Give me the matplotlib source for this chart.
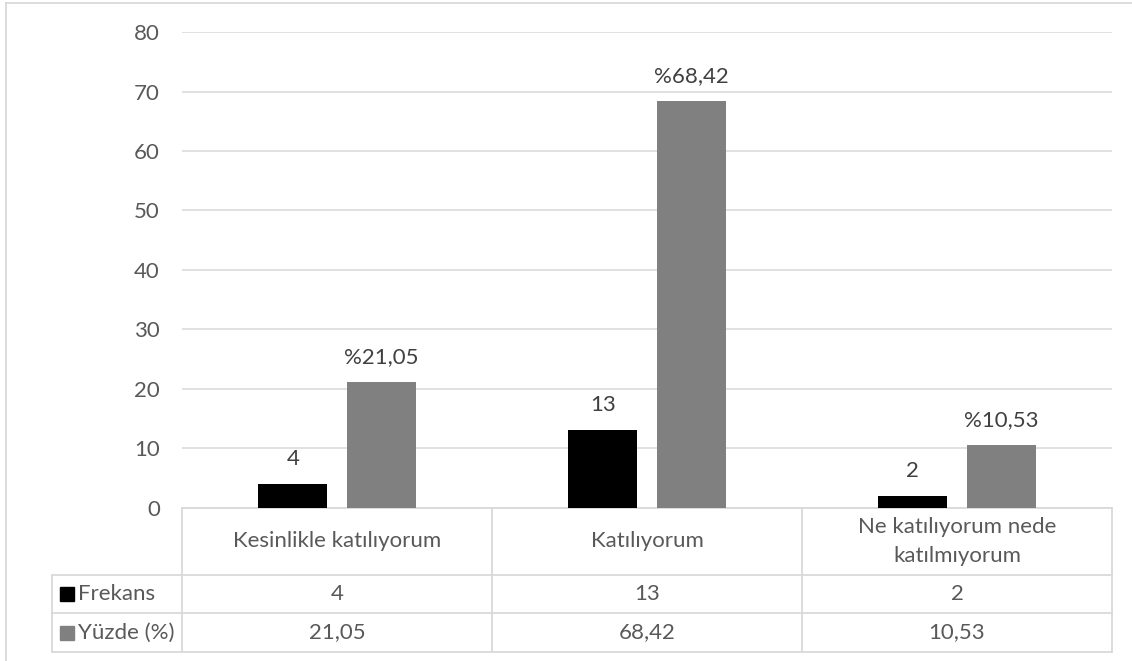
import matplotlib
matplotlib.use("Agg")
import matplotlib.pyplot as plt
from matplotlib.lines import Line2D
import numpy as np

plt.rcParams['font.family'] = ['Lato', 'DejaVu Sans']

categories = ["Kesinlikle katılıyorum", "Katılıyorum", "Ne katılıyorum nede\nkatılmıyorum"]
series_names = ["Frekans", "Yüzde (%)"]
frekans = [4, 13, 2]
yuzde = [21.05, 68.42, 10.53]
frekans_labels = ["4", "13", "2"]
yuzde_labels = ["%21,05", "%68,42", "%10,53"]
yuzde_table = ["21,05", "68,42", "10,53"]
yticks = [0, 10, 20, 30, 40, 50, 60, 70, 80]

W, H = 1132, 661
fig = plt.figure(figsize=(W / 100, H / 100), dpi=100)
fig.patch.set_facecolor("white")

grid_c = "#d9d9d9"
text_c = "#595959"
lab_c = "#404040"
fs = 16

# plot area in pixels
x0, x1 = 182, 1112
y_top, y_bot = 32.3, 507.5
ax = fig.add_axes([x0 / W, 1 - y_bot / H, (x1 - x0) / W, (y_bot - y_top) / H])

x = np.arange(len(categories))
bw = 0.223
off = 0.1425
b1 = ax.bar(x - off, frekans, bw, color="#000000", zorder=3)
b2 = ax.bar(x + off, yuzde, bw, color="#808080", zorder=3)

for rect, lab in zip(b1, frekans_labels):
    ax.annotate(lab, (rect.get_x() + rect.get_width() / 2, rect.get_height()),
                xytext=(0, 18), textcoords="offset points", ha="center", va="center",
                fontsize=fs, color=lab_c)
for rect, lab in zip(b2, yuzde_labels):
    ax.annotate(lab, (rect.get_x() + rect.get_width() / 2, rect.get_height()),
                xytext=(0, 18), textcoords="offset points", ha="center", va="center",
                fontsize=fs, color=lab_c)

ax.set_xlim(-0.5, len(categories) - 0.5)
ax.set_ylim(0, 80)
ax.set_yticks(yticks)
ax.set_yticklabels([str(t) for t in yticks], fontsize=fs, color=text_c)
ax.tick_params(axis="y", length=0, pad=16)
ax.set_xticks([])
ax.yaxis.grid(True, color=grid_c, linewidth=1.1, zorder=0)
for s in ["top", "right", "left"]:
    ax.spines[s].set_visible(False)
ax.spines["bottom"].set_color(grid_c)
ax.spines["bottom"].set_linewidth(1.3)

# data table axes (x in category units, y in pixels)
t_left, t_bot = 52, 652
r1, r2 = 575, 613
units_per_px = 1.0 / 310
tx_left = -0.5 - (x0 - t_left) * units_per_px
tax = fig.add_axes([t_left / W, 1 - t_bot / H, (x1 - t_left) / W, (t_bot - y_bot) / H])
tax.set_xlim(tx_left, len(categories) - 0.5)
tax.set_ylim(t_bot, y_bot)
tax.axis("off")
lw = 1.3
ncat = len(categories)
for xv in np.arange(-0.5, ncat, 1.0):
    tax.plot([xv, xv], [y_bot, t_bot], color=grid_c, lw=lw, clip_on=False)
tax.plot([tx_left, tx_left], [r1, t_bot], color=grid_c, lw=lw, clip_on=False)
for yv in [r1, r2, t_bot]:
    tax.plot([tx_left, ncat - 0.5], [yv, yv], color=grid_c, lw=lw, clip_on=False)

for i, c in enumerate(categories):
    tax.text(i, (y_bot + r1) / 2, c, ha="center", va="center", fontsize=fs,
             color=text_c, linespacing=1.55)
    tax.text(i, (r1 + r2) / 2, str(frekans[i]), ha="center", va="center",
             fontsize=fs, color=text_c)
    tax.text(i, (r2 + t_bot) / 2, yuzde_table[i], ha="center", va="center",
             fontsize=fs, color=text_c)

key_x = -0.5 - (x0 - 66.5) * units_per_px
txt_x = -0.5 - (x0 - 78) * units_per_px
for (yc, col, name) in [((r1 + r2) / 2, "#000000", series_names[0]),
                        ((r2 + t_bot) / 2, "#808080", series_names[1])]:
    tax.plot([key_x], [yc], marker="s", markersize=9.5, color=col, clip_on=False)
    tax.text(txt_x, yc, name, ha="left", va="center", fontsize=fs, color=text_c)

# outer chart border (top and left visible)
fig.add_artist(Line2D([6 / W, 1], [1 - 3 / H, 1 - 3 / H], color=grid_c, lw=1.3))
fig.add_artist(Line2D([6 / W, 6 / W], [0, 1 - 3 / H], color=grid_c, lw=1.3))

fig.savefig("out.png", dpi=100, facecolor="white")
